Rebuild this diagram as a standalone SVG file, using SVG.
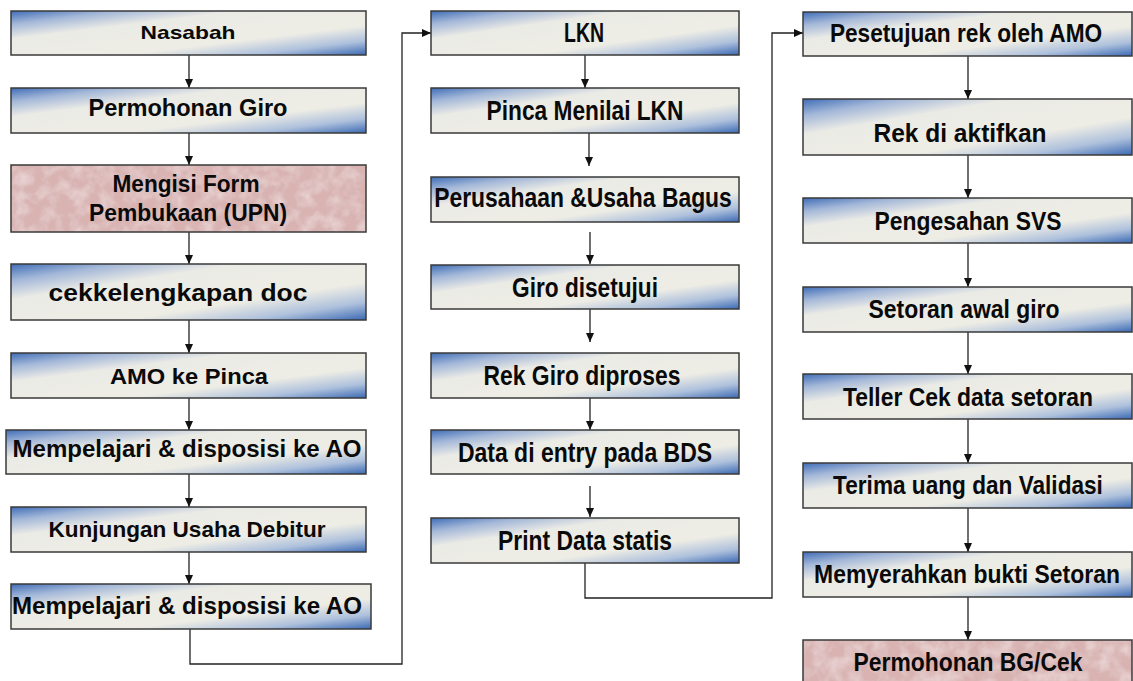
<svg xmlns="http://www.w3.org/2000/svg" width="1133" height="681" viewBox="0 0 1133 681">
<defs>
<linearGradient id="g" x1="0" y1="0" x2="1" y2="1">
<stop offset="0" stop-color="#3f6db7"/>
<stop offset="0.15" stop-color="#a3b7d8"/>
<stop offset="0.32" stop-color="#ebebe6"/>
<stop offset="0.66" stop-color="#eeede5"/>
<stop offset="0.84" stop-color="#adc0dc"/>
<stop offset="1" stop-color="#3a69b3"/>
</linearGradient>
<filter id="tex" x="0" y="0" width="100%" height="100%">
<feTurbulence type="fractalNoise" baseFrequency="0.07" numOctaves="3" seed="5" result="n"/>
<feColorMatrix in="n" type="matrix" values="0 0 0 0 0.97  0 0 0 0 0.9  0 0 0 0 0.9  0 0 0 0.9 -0.35" result="w"/>
<feComposite in="w" in2="SourceGraphic" operator="atop"/>
</filter>
<marker id="ah" markerWidth="10" markerHeight="10" refX="9" refY="5" orient="auto" markerUnits="userSpaceOnUse">
<path d="M0,1 L9,5 L0,9 Z" fill="#111"/>
</marker>
</defs>
<style>
.b{fill:url(#g);stroke:#3a3a3a;stroke-width:1.5}
.p{fill:#d8b3b2}
.ps{fill:none;stroke:#3a3a3a;stroke-width:1.5}
.t1{font-family:"Liberation Sans",Arial,sans-serif;font-weight:bold;fill:#0a0a0a;text-anchor:middle}
.t2{font-family:"Liberation Sans Narrow","Liberation Sans",Arial,sans-serif;font-weight:bold;fill:#0a0a0a;text-anchor:middle}
.c{fill:none;stroke:#222;stroke-width:1.3;marker-end:url(#ah)}
</style>
<rect width="1133" height="681" fill="#ffffff"/>

<g id="connectors">
<path class="c" d="M189,55 V88"/>
<path class="c" d="M189,133 V165"/>
<path class="c" d="M189,232 V264"/>
<path class="c" d="M189,320 V353"/>
<path class="c" d="M189,398 V430"/>
<path class="c" d="M189,474 V507"/>
<path class="c" d="M189,552 V584"/>
<path class="c" d="M190,629 V664 H402 V33 H431"/>
<path class="c" d="M585,55 V88"/>
<path class="c" d="M589,133 V166"/>
<path class="c" d="M590,232 V264"/>
<path class="c" d="M590,309 V342"/>
<path class="c" d="M590,398 V430"/>
<path class="c" d="M590,486 V517"/>
<path class="c" d="M585,563 V598 H772 V33 H803"/>
<path class="c" d="M968,56 V99"/>
<path class="c" d="M968,155 V198"/>
<path class="c" d="M968,243 V287"/>
<path class="c" d="M968,332 V374"/>
<path class="c" d="M968,419 V463"/>
<path class="c" d="M968,508 V552"/>
<path class="c" d="M968,597 V640"/>
</g>

<g id="n-nasabah"><rect class="b" x="11" y="11" width="355" height="44"/><text class="t1" x="188" y="39" font-size="19" textLength="95" lengthAdjust="spacingAndGlyphs">Nasabah</text></g>
<g id="n-permohonan-giro"><rect class="b" x="11" y="88" width="355" height="45"/><text class="t1" x="188" y="116" font-size="23" textLength="199" lengthAdjust="spacingAndGlyphs">Permohonan Giro</text></g>
<g id="n-mengisi-form"><rect class="p" x="11" y="165" width="355" height="67" filter="url(#tex)"/><rect class="ps" x="11" y="165" width="355" height="67"/><text class="t1" x="186" y="192" font-size="23" textLength="147" lengthAdjust="spacingAndGlyphs">Mengisi Form</text><text class="t1" x="188" y="221" font-size="23" textLength="198" lengthAdjust="spacingAndGlyphs">Pembukaan (UPN)</text></g>
<g id="n-cek"><rect class="b" x="11" y="264" width="355" height="56"/><text class="t1" x="178" y="301" font-size="23" textLength="259" lengthAdjust="spacingAndGlyphs">cekkelengkapan doc</text></g>
<g id="n-amo"><rect class="b" x="11" y="353" width="355" height="45"/><text class="t1" x="189" y="384" font-size="22" textLength="158" lengthAdjust="spacingAndGlyphs">AMO ke Pinca</text></g>
<g id="n-mempelajari-1"><rect class="b" x="6" y="430" width="360" height="44"/><text class="t1" x="187" y="457" font-size="23" textLength="349" lengthAdjust="spacingAndGlyphs">Mempelajari &amp; disposisi ke AO</text></g>
<g id="n-kunjungan"><rect class="b" x="11" y="507" width="355" height="45"/><text class="t1" x="187" y="537" font-size="22" textLength="277" lengthAdjust="spacingAndGlyphs">Kunjungan Usaha Debitur</text></g>
<g id="n-mempelajari-2"><rect class="b" x="11" y="584" width="360" height="45"/><text class="t1" x="187" y="614" font-size="23" textLength="350" lengthAdjust="spacingAndGlyphs">Mempelajari &amp; disposisi ke AO</text></g>

<g id="n-lkn"><rect class="b" x="431" y="11" width="308" height="44"/><text class="t2" transform="translate(584,42) scale(0.82,1)" font-size="27" textLength="48.8" lengthAdjust="spacingAndGlyphs">LKN</text></g>
<g id="n-pinca"><rect class="b" x="431" y="88" width="308" height="45"/><text class="t2" transform="translate(585,120) scale(0.82,1)" font-size="27" textLength="240" lengthAdjust="spacingAndGlyphs">Pinca Menilai LKN</text></g>
<g id="n-perusahaan"><rect class="b" x="431" y="177" width="308" height="45"/><text class="t2" transform="translate(583,207) scale(0.82,1)" font-size="27" textLength="363" lengthAdjust="spacingAndGlyphs">Perusahaan &amp;Usaha Bagus</text></g>
<g id="n-giro-disetujui"><rect class="b" x="431" y="265" width="308" height="44"/><text class="t2" transform="translate(585,297) scale(0.82,1)" font-size="28" textLength="178" lengthAdjust="spacingAndGlyphs">Giro disetujui</text></g>
<g id="n-rek-giro"><rect class="b" x="431" y="353" width="308" height="45"/><text class="t2" transform="translate(582,385) scale(0.82,1)" font-size="28" textLength="240" lengthAdjust="spacingAndGlyphs">Rek Giro diproses</text></g>
<g id="n-data-entry"><rect class="b" x="431" y="430" width="308" height="44"/><text class="t2" transform="translate(585,462) scale(0.82,1)" font-size="27" textLength="310" lengthAdjust="spacingAndGlyphs">Data di entry pada BDS</text></g>
<g id="n-print"><rect class="b" x="431" y="518" width="308" height="45"/><text class="t2" transform="translate(585,550) scale(0.82,1)" font-size="27" textLength="212" lengthAdjust="spacingAndGlyphs">Print Data statis</text></g>

<g id="n-pesetujuan"><rect class="b" x="803" y="12" width="329" height="44"/><text class="t2" transform="translate(966,42) scale(0.82,1)" font-size="26" textLength="332" lengthAdjust="spacingAndGlyphs">Pesetujuan rek oleh AMO</text></g>
<g id="n-rek-aktif"><rect class="b" x="803" y="99" width="329" height="56"/><text class="t2" transform="translate(960,142) scale(0.82,1)" font-size="26" textLength="211" lengthAdjust="spacingAndGlyphs">Rek di aktifkan</text></g>
<g id="n-pengesahan"><rect class="b" x="803" y="198" width="329" height="45"/><text class="t2" transform="translate(968,230) scale(0.82,1)" font-size="26" textLength="228" lengthAdjust="spacingAndGlyphs">Pengesahan SVS</text></g>
<g id="n-setoran-awal"><rect class="b" x="803" y="287" width="329" height="45"/><text class="t2" transform="translate(964,318) scale(0.82,1)" font-size="26" textLength="233" lengthAdjust="spacingAndGlyphs">Setoran awal giro</text></g>
<g id="n-teller"><rect class="b" x="803" y="374" width="329" height="45"/><text class="t2" transform="translate(968,406) scale(0.82,1)" font-size="26" textLength="305" lengthAdjust="spacingAndGlyphs">Teller Cek data setoran</text></g>
<g id="n-terima"><rect class="b" x="803" y="463" width="329" height="45"/><text class="t2" transform="translate(968,494) scale(0.82,1)" font-size="26" textLength="329" lengthAdjust="spacingAndGlyphs">Terima uang dan Validasi</text></g>
<g id="n-memyerahkan"><rect class="b" x="803" y="552" width="329" height="45"/><text class="t2" transform="translate(967,583) scale(0.82,1)" font-size="26" textLength="373" lengthAdjust="spacingAndGlyphs">Memyerahkan bukti Setoran</text></g>
<g id="n-permohonan-bg"><rect class="p" x="803" y="640" width="329" height="45" filter="url(#tex)"/><rect class="ps" x="803" y="640" width="329" height="45"/><text class="t2" transform="translate(968,671) scale(0.82,1)" font-size="26" textLength="279" lengthAdjust="spacingAndGlyphs">Permohonan BG/Cek</text></g>
</svg>
